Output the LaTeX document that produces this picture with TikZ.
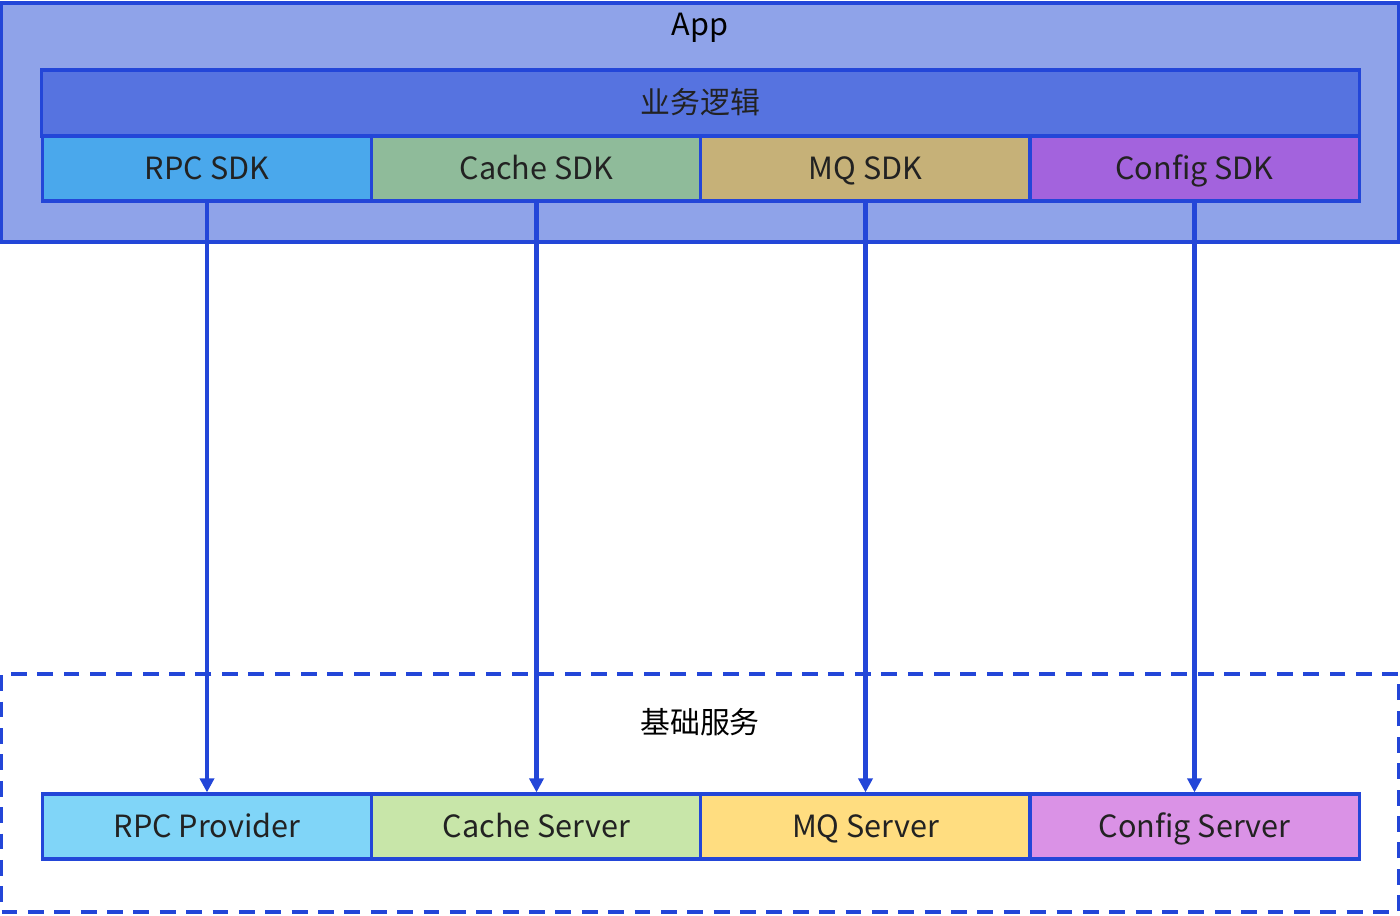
\documentclass[tikz,border=0pt]{standalone}
\usepackage{fontspec}
\setmainfont{Noto Sans CJK SC}
\usetikzlibrary{arrows.meta}

\definecolor{edgeblue}{HTML}{2346D8}
\definecolor{appfill}{HTML}{8FA3E9}
\definecolor{logicfill}{HTML}{5673E0}
\definecolor{rpcsdkfill}{HTML}{4AA8EC}
\definecolor{cachesdkfill}{HTML}{8FBB9A}
\definecolor{mqsdkfill}{HTML}{C6B178}
\definecolor{configsdkfill}{HTML}{A363DD}
\definecolor{rpcsrvfill}{HTML}{80D5F8}
\definecolor{cachesrvfill}{HTML}{C8E6A9}
\definecolor{mqsrvfill}{HTML}{FFDD80}
\definecolor{configsrvfill}{HTML}{DA92E6}
\definecolor{labelgray}{HTML}{222222}

\tikzset{
    cell/.style={draw=edgeblue, line width=0.9pt, rectangle, inner sep=0pt,
        minimum width=3.29cm, minimum height=0.65cm, text=labelgray,
        text height=1.5ex, text depth=0.35ex,
        font=\fontsize{8.7}{10}\selectfont},
    call/.style={draw=edgeblue, line width=1.15pt, -{Triangle[width=4pt,length=4pt]}}
}

\begin{document}
\begin{tikzpicture}[x=0.01cm, y=-0.01cm]
        \useasboundingbox (0,0) rectangle (1400,915);

        \node[draw=edgeblue, line width=0.9pt, fill=appfill, minimum width=13.96cm, minimum height=2.39cm, inner sep=0pt] (app) at (700,122.5) {};
        \node[text=black, font=\fontsize{8.7}{10}\selectfont] (apptitle) at (700,28) {App};

        \node[cell, fill=logicfill, minimum width=13.17cm, minimum height=0.66cm, font=\fontsize{8.5}{10}\selectfont] (logic) at (700.5,103) {业务逻辑};

        \node[cell, fill=rpcsdkfill] (rpcsdk) at (207,168.5) {RPC SDK};
        \node[cell, fill=cachesdkfill] (cachesdk) at (536.5,168.5) {Cache SDK};
        \node[cell, fill=mqsdkfill] (mqsdk) at (865.5,168.5) {MQ SDK};
        \node[cell, fill=configsdkfill] (configsdk) at (1194.5,168.5) {Config SDK};

        \node[draw=edgeblue, line width=0.9pt, dash pattern=on 4.5pt off 3pt, minimum width=13.96cm, minimum height=2.38cm, inner sep=0pt] (base) at (700,793) {};
        \node[text=black, font=\fontsize{8.5}{10}\selectfont] (basetitle) at (700,722) {基础服务};

        \node[cell, fill=rpcsrvfill] (rpcsrv) at (207,826.5) {RPC Provider};
        \node[cell, fill=cachesrvfill] (cachesrv) at (536.5,826.5) {Cache Server};
        \node[cell, fill=mqsrvfill] (mqsrv) at (865.5,826.5) {MQ Server};
        \node[cell, fill=configsrvfill] (configsrv) at (1194.5,826.5) {Config Server};

        \draw[call] (rpcsdk) -- (rpcsrv);
        \draw[call] (cachesdk) -- (cachesrv);
        \draw[call] (mqsdk) -- (mqsrv);
        \draw[call] (configsdk) -- (configsrv);
    \end{tikzpicture}
\end{document}
